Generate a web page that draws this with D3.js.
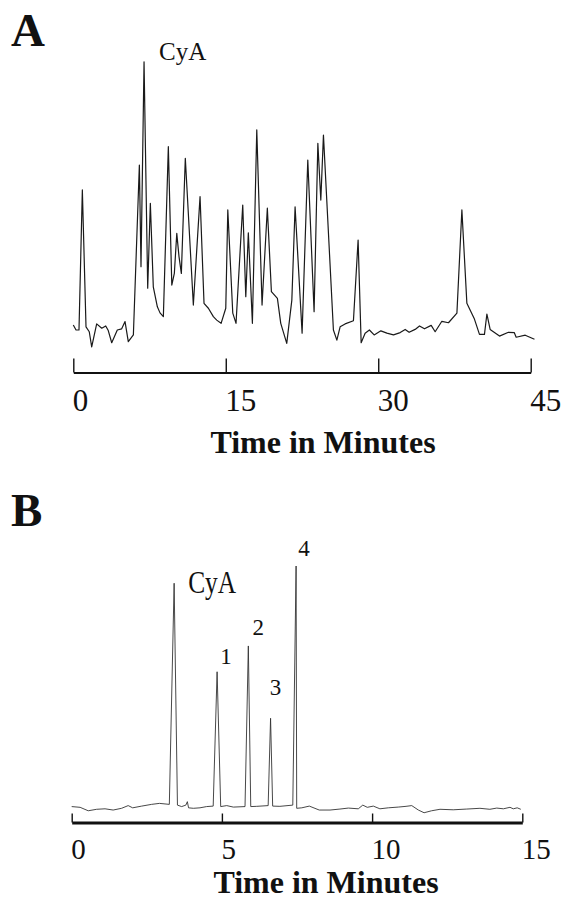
<!DOCTYPE html>
<html>
<head>
<meta charset="utf-8">
<script src="https://cdn.jsdelivr.net/npm/d3@7"></script>
<style>
  body { margin: 0; background: #fff; }
  svg { display: block; font-family: "Liberation Serif", "Times New Roman", serif; }
</style>
</head>
<body>
<div id="chart"></div>
<script>
// panel A: 45 min gradient run (relative response, %)
var timeA = [0.00, 0.27, 0.56, 0.89, 1.25, 1.57, 1.81, 2.30, 2.80, 3.19,
             3.44, 3.78, 4.33, 4.76, 5.09, 5.41, 5.91, 6.50, 6.66, 6.96,
             7.32, 7.58, 7.87, 8.27, 8.53, 8.86, 9.35, 9.69, 9.94, 10.18,
             10.40, 10.63, 11.02, 11.81, 12.47, 12.86, 13.29, 13.78, 14.11, 14.54,
             15.00, 15.20, 15.69, 16.01, 16.67, 16.97, 17.22, 17.62, 18.05, 18.57,
             19.09, 19.49, 20.08, 20.41, 21.00, 21.50, 21.82, 22.51, 23.07, 23.69,
             24.06, 24.35, 24.61, 25.59, 25.93, 26.25, 26.74, 27.56, 28.02, 28.32,
             28.71, 29.13, 29.60, 30.26, 30.85, 31.50, 32.16, 32.65, 33.04, 33.63,
             34.06, 34.55, 35.21, 35.60, 36.26, 36.91, 37.74, 38.23, 38.72, 39.44,
             39.96, 40.45, 40.69, 41.01, 41.93, 42.81, 43.38, 43.57, 44.46, 45.37];
var signalA = [8.6, 6.9, 6.9, 55.2, 8.0, 6.3, 1.1, 9.0, 7.5, 8.3,
               6.7, 2.5, 6.9, 7.3, 9.8, 2.9, 5.2, 63.8, 28.7, 99.4,
               21.3, 50.6, 21.8, 14.9, 12.8, 11.5, 70.1, 22.4, 26.4, 40.2,
               32.2, 26.4, 66.1, 15.5, 52.9, 16.1, 14.4, 11.5, 10.3, 9.2,
               14.4, 48.3, 12.7, 9.2, 50.0, 18.4, 40.4, 9.2, 75.9, 15.5,
               48.9, 20.1, 17.8, 9.2, 2.3, 17.2, 49.4, 5.8, 65.5, 13.2,
               71.3, 51.7, 74.1, 6.9, 3.4, 8.0, 9.0, 10.1, 37.9, 2.5,
               5.8, 6.9, 5.2, 6.6, 5.8, 5.2, 6.0, 7.1, 6.1, 7.1,
               8.3, 7.3, 8.5, 6.3, 9.9, 9.4, 12.7, 48.3, 16.1, 10.9,
               5.4, 5.4, 12.4, 7.1, 4.8, 6.1, 6.0, 4.4, 5.1, 3.7];

// panel B: 15 min isocratic run
var timeB = [0.00, 0.28, 0.55, 0.83, 1.11, 1.38, 1.66, 1.88, 2.03, 2.33,
             2.66, 2.92, 3.25, 3.41, 3.52, 3.66, 3.80, 3.85, 3.89, 4.05,
             4.27, 4.49, 4.71, 4.84, 4.96, 5.16, 5.38, 5.77, 5.88, 5.96,
             6.16, 6.54, 6.62, 6.69, 6.93, 7.36, 7.47, 7.49, 7.66, 7.91,
             8.24, 8.60, 8.93, 9.21, 9.54, 9.69, 9.84, 10.04, 10.26, 10.54,
             10.87, 11.13, 11.32, 11.54, 11.73, 11.98, 12.26, 12.70, 13.15, 13.59,
             13.92, 14.15, 14.37, 14.59, 14.70, 14.83, 14.95];
var signalB = [2.2, 1.9, 0.5, 1.1, 1.3, 0.8, 1.5, 2.6, 1.7, 2.4,
               3.1, 3.5, 3.1, 93.0, 2.8, 2.2, 2.8, 4.2, 1.7, 1.5,
               1.7, 2.2, 2.4, 57.0, 2.2, 2.6, 2.0, 2.2, 67.5, 2.2,
               2.3, 2.6, 38.1, 2.4, 2.3, 2.8, 100.0, 1.5, 1.7, 2.4,
               0.8, 0.8, 1.2, 1.6, 1.3, 2.8, 1.9, 2.4, 1.3, 1.7,
               2.0, 2.3, 2.6, 0.8, -0.3, 0.5, 1.1, 0.9, 1.2, 1.5,
               1.1, 1.6, 1.3, 1.9, 1.3, 1.7, 1.1];

var ticksA = [0, 15, 30, 45];
var ticksB = [0, 5, 10, 15];
var axisTitle = "Time in Minutes";

// peak names and the index of the point they mark
var peakNamesA = ["CyA"];
var peakIndexA = [19];
var peakNamesB = ["CyA", "1", "2", "3", "4"];
var peakIndexB = [13, 23, 28, 32, 36];

var width = 561, height = 899;
var svg = d3.select("#chart").append("svg")
    .attr("width", width)
    .attr("height", height);

svg.append("rect").attr("width", width).attr("height", height).attr("fill", "#fff");

function drawPanel(opt) {
    var x = d3.scaleLinear().domain(opt.xDomain).range(opt.xRange);
    var y = d3.scaleLinear().domain([0, 100]).range(opt.yRange);

    var line = d3.line()
        .x(function(d) { return x(d[0]); })
        .y(function(d) { return y(d[1]); });

    svg.append("path")
        .datum(d3.zip(opt.time, opt.signal))
        .attr("d", line)
        .attr("fill", "none")
        .attr("stroke", opt.lineColor)
        .attr("stroke-width", opt.lineWidth)
        .attr("stroke-linejoin", "round");

    // axis: ticks pointing up, labels below starting at the tick
    var axis = d3.axisBottom(x)
        .tickValues(opt.ticks)
        .tickFormat(d3.format("d"))
        .tickSizeInner(-opt.tickLen)
        .tickSizeOuter(0);

    var g = svg.append("g")
        .attr("transform", "translate(0," + opt.axisY + ")")
        .call(axis);
    g.select(".domain").attr("stroke", "#111").attr("stroke-width", opt.axisWidth);
    g.selectAll(".tick line").attr("stroke", "#111").attr("stroke-width", 1.4);
    g.selectAll(".tick text")
        .attr("fill", "#111")
        .attr("font-family", "Liberation Serif, Times New Roman, serif")
        .attr("font-size", opt.tickFont)
        .attr("text-anchor", "start")
        .attr("x", -1)
        .attr("y", opt.tickTextY)
        .attr("dy", null);

    svg.append("text")
        .attr("x", opt.titleX)
        .attr("y", opt.titleY)
        .attr("text-anchor", "middle")
        .attr("font-size", 32)
        .attr("font-weight", "bold")
        .attr("fill", "#111")
        .text(axisTitle);

    svg.append("text")
        .attr("x", 11)
        .attr("y", opt.letterY)
        .attr("font-size", 47)
        .attr("font-weight", "bold")
        .attr("fill", "#111")
        .text(opt.letter);

    opt.peakNames.forEach(function(name, i) {
        var k = opt.peakIndex[i];
        var off = opt.labelOffsets[i];
        var t = svg.append("text")
            .attr("x", x(opt.time[k]) + off[0])
            .attr("y", y(opt.signal[k]) + off[1])
            .attr("text-anchor", off[2])
            .attr("font-size", off[3])
            .attr("fill", "#111")
            .text(name);
        if (off[4]) t.attr("textLength", off[4]).attr("lengthAdjust", "spacingAndGlyphs");
    });
}

drawPanel({
    letter: "A", letterY: 46,
    time: timeA, signal: signalA,
    xDomain: [0, 45], xRange: [73.3, 530.7],
    yRange: [350, 60],
    lineColor: "#1a1a1a", lineWidth: 1.2,
    ticks: ticksA, tickLen: 14, axisY: 372.5, axisWidth: 1.8,
    tickFont: 31, tickTextY: 38,
    titleX: 323, titleY: 453,
    peakNames: peakNamesA, peakIndex: peakIndexA,
    labelOffsets: [[15, -2, "start", 25]]
});

drawPanel({
    letter: "B", letterY: 526,
    time: timeB, signal: signalB,
    xDomain: [0, 15], xRange: [71.7, 522.3],
    yRange: [812, 566],
    lineColor: "#333", lineWidth: 0.9,
    ticks: ticksB, tickLen: 9, axisY: 822.5, axisWidth: 2.8,
    tickFont: 29, tickTextY: 36,
    titleX: 326, titleY: 893,
    peakNames: peakNamesB, peakIndex: peakIndexB,
    labelOffsets: [[14, 10, "start", 31, 48],
                   [9, -8, "middle", 23],
                   [10, -11, "middle", 23],
                   [5, -23, "middle", 23],
                   [8, -10, "middle", 23]]
});
</script>
</body>
</html>
